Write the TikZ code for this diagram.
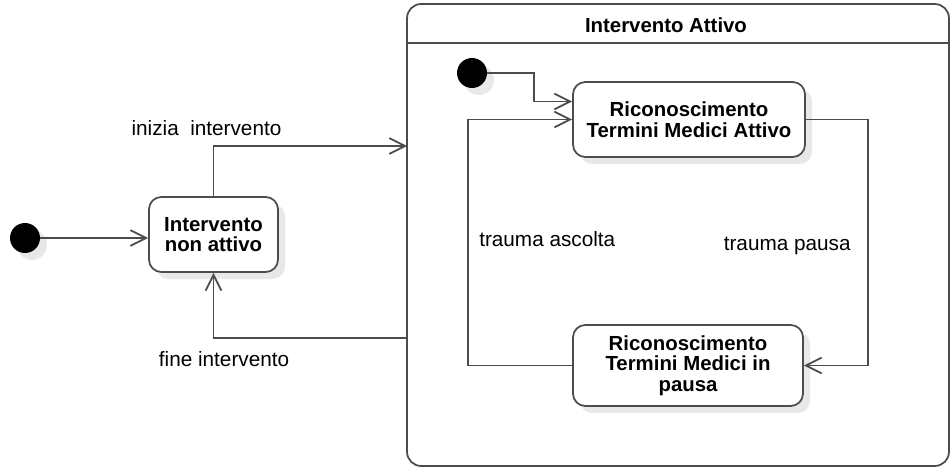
\documentclass[tikz,border=0pt]{standalone}
\usepackage{fontspec}
\setmainfont{Liberation Sans}
\usetikzlibrary{arrows.meta, shadows, calc}

\begin{document}
\begin{tikzpicture}[x=0.02cm, y=-0.02cm, state/.style={
        rectangle,
        rounded corners=7pt,
        draw=black!70,
        line width=1pt,
        fill=white,
        align=center,
        inner sep=2pt,
        font=\fontsize{11.6}{11.8}\selectfont\bfseries,
        drop shadow={shadow xshift=4pt, shadow yshift=-4pt, fill=black!9, opacity=1}
    }, composite/.style={
        rectangle,
        rounded corners=8pt,
        draw=black!70,
        line width=1pt,
        minimum width=10.84cm,
        minimum height=9.24cm
    }, start/.style={
        circle,
        fill=black,
        inner sep=0pt,
        minimum size=0.6cm,
        drop shadow={shadow xshift=4pt, shadow yshift=-4pt, fill=black!9, opacity=1}
    }, trans/.style={
        draw=black!70, line width=1pt, -{Straight Barb[length=9pt,width=9pt]}
    }, lbl/.style={
        font=\fontsize{11.8}{13}\selectfont
    }]
    \useasboundingbox (0,0) rectangle (950,470);

    % composite state
    \node (attivo) [composite] at (678,235) {};
    \coordinate (head) at (0,43);
    \draw [draw=black!70, line width=1pt] (attivo.west |- head) -- (attivo.east |- head);
    \node (titolo) [font=\fontsize{11.6}{13}\selectfont\bfseries] at (666,25) {Intervento Attivo};

    % states
    \node (init) [start] at (25,238) {};
    \node (idle) [state, minimum width=2.58cm, minimum height=1.5cm] at (213.5,234.5) {Intervento\\non attivo};
    \node (initsub) [start] at (472,73) {};
    \node (riconattivo) [state, minimum width=4.64cm, minimum height=1.5cm] at (689,119.5) {Riconoscimento\\Termini Medici Attivo};
    \node (riconpausa) [state, minimum width=4.6cm, minimum height=1.62cm] at (688,365.5) {Riconoscimento\\Termini Medici in\\pausa};

    % free ends on the composite border
    \coordinate (inizia) at (407,146);
    \coordinate (fine) at (407,338);

    % transitions
    \draw [trans] (init) -- (init -| idle.west);
    \draw [trans] (idle.north) |- node[lbl, pos=0.5, above, xshift=-4pt, yshift=2pt] {inizia\ \ intervento} (inizia);
    \draw [trans] (fine) -| node[lbl, pos=0.5, below, xshift=6pt, yshift=-4pt] {fine intervento} (idle.south);
    \draw [trans] (initsub.east) -- ++(47,0) |- ($(riconattivo.west)+(0,-18)$);
    \draw [trans] (riconattivo.east) -- ++(62,0) |- node[lbl, pos=0.257, left=6pt] {trauma pausa} (riconpausa.east);
    \draw [trans] (riconpausa.west) -- ++(-104,0) |- node[lbl, pos=0.257, right=2.5pt] {trauma ascolta} (riconattivo.west);

\end{tikzpicture}
\end{document}
